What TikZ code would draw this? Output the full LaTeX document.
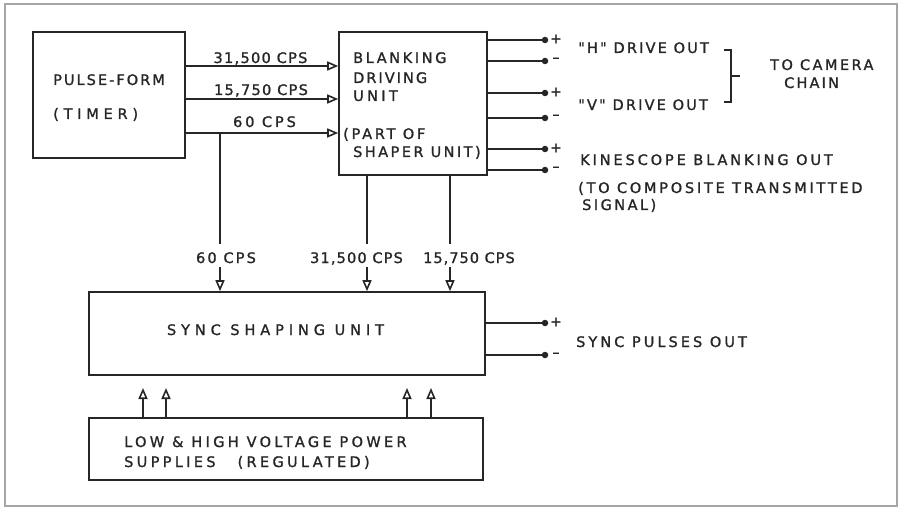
\documentclass[tikz,border=0pt]{standalone}
\usepackage{fontspec}
\setmainfont{DejaVu Sans}
\newfontfamily\lett[FakeBold=1.3]{DejaVu Sans}
\usetikzlibrary{arrows.meta}
\newcommand\LS[2]{{\addfontfeature{LetterSpace=#1}#2}}
\definecolor{ink}{HTML}{262626}
\begin{document}
\begin{tikzpicture}[x=1pt,y=-1pt,
  inkline/.style={draw=ink,line width=1.6pt},
  box/.style={draw=ink,line width=1.6pt,rectangle,inner sep=0pt},
  lbl/.style={inner sep=0pt,text=ink,font=\lett\fontsize{14.5}{17}\selectfont},
  lw/.style={lbl,anchor=base west},
  lc/.style={lbl,anchor=base},
  arr/.style={inkline,-{Triangle[open,length=11pt,width=9pt,line width=1.6pt]}},
  dotnode/.style={circle,fill=ink,inner sep=0pt,minimum size=6.5pt},
  sgn/.style={lbl,anchor=center,font=\lett\fontsize{14}{16}\selectfont}]
\useasboundingbox (0,0) rectangle (900,508);
\draw[gray!70,line width=1.3pt] (5,4) rectangle (897,506);

% boxes
\node[box,minimum width=152pt,minimum height=126pt] (pulse) at (109,95) {};
\node[box,minimum width=148pt,minimum height=143pt] (blank) at (413,103.5) {};
\node[box,minimum width=396pt,minimum height=83pt] (sync) at (287,333.5) {};
\node[box,minimum width=394pt,minimum height=62pt] (power) at (286,449) {};

% box texts
\node[lw] (tpf) at (53,85) {\LS{14}{PULSE-FORM}};
\node[lw] (ttim) at (53,119) {\LS{33}{(TIMER)}};
\node[lw] (tbl) at (353,63) {\LS{18}{BLANKING}};
\node[lw] (tdr) at (353,83) {\LS{14}{DRIVING}};
\node[lw] (tun) at (353,101) {\LS{23}{UNIT}};
\node[lw] (tpart) at (343,139) {\LS{19}{(PART OF}};
\node[lw] (tshp) at (353,157) {\LS{17}{SHAPER UNIT)}};
\node[lc] (tsync) at (275.5,335) {\LS{34}{SYNC SHAPING UNIT}};
\node[lw] (tlow) at (124,447) {\LS{23}{LOW \& HIGH VOLTAGE POWER}};
\node[lw] (tsup) at (124,467) {\LS{23}{SUPPLIES\hspace{22pt}(REGULATED)}};

% pulse -> blanking
\coordinate (r1) at (0,66);
\coordinate (r2) at (0,99);
\coordinate (r3) at (0,133);
\draw[arr] (pulse.east |- r1) -- (blank.west |- r1);
\draw[arr] (pulse.east |- r2) -- (blank.west |- r2);
\draw[arr] (pulse.east |- r3) -- (blank.west |- r3);
\node[lc] (l1) at (260.5,63) {\LS{9}{31,500 CPS}};
\node[lc] (l2) at (261,95) {\LS{9}{15,750 CPS}};
\node[lc] (l3) at (264.5,127) {\LS{20}{60 CPS}};

% 60 CPS down to sync
\coordinate (j60) at (220,133);
\coordinate (a60) at (220,244);
\coordinate (b60) at (220,267);
\draw[inkline] (j60) -- (a60);
\draw[arr] (b60) -- (sync.north -| b60);
\node[lc] (l4) at (226,263) {\LS{15}{60 CPS}};

% blanking down to sync
\coordinate (a31) at (367,244);
\coordinate (b31) at (367,267);
\draw[inkline] (blank.south -| a31) -- (a31);
\draw[arr] (b31) -- (sync.north -| b31);
\node[lc] (l5) at (356.5,263) {\LS{8}{31,500 CPS}};
\coordinate (a15) at (450,244);
\coordinate (b15) at (450,267);
\draw[inkline] (blank.south -| a15) -- (a15);
\draw[arr] (b15) -- (sync.north -| b15);
\node[lc] (l6) at (469,263) {\LS{7}{15,750 CPS}};

% power up to sync
\foreach \i/\x in {1/143,2/166,3/407,4/431}{
  \coordinate (u\i) at (\x,388);
  \draw[arr] (power.north -| u\i) -- (u\i);
}

% blanking outputs
\foreach \i/\y/\s in {1/40/+,2/61/–,3/93/+,4/118/–,5/149/+,6/170/–}{
  \node[dotnode] (o\i) at (545,\y) {};
  \draw[inkline] (blank.east |- o\i) -- (o\i.center);
  \node[sgn] (s\i) at (556,\y-1) {\s};
}
\node[lw] (th) at (578,53) {\LS{15}{"H" DRIVE OUT}};
\node[lw] (tv) at (578,110) {\LS{15}{"V" DRIVE OUT}};
\node[lw] (tcam) at (770,70) {\LS{17}{TO CAMERA}};
\node[lw] (tchain) at (784,88) {\LS{15}{CHAIN}};
\coordinate (k1) at (724,50);
\coordinate (k2) at (731,50);
\coordinate (k3) at (731,102);
\coordinate (k4) at (724,102);
\coordinate (k5) at (731,76);
\coordinate (k6) at (740,76);
\draw[ink,line width=2pt] (k1) -- (k2) -- (k3) -- (k4);
\draw[ink,line width=2pt] (k5) -- (k6);
\node[lw] (tkin) at (580,165) {\LS{20}{KINESCOPE BLANKING OUT}};
\node[lw] (tcomp) at (578,193) {\LS{19}{(TO COMPOSITE TRANSMITTED}};
\node[lw] (tsig) at (582,210) {\LS{17}{SIGNAL)}};

% sync outputs
\node[dotnode] (p1) at (545,323) {};
\node[dotnode] (p2) at (545,355) {};
\draw[inkline] (sync.east |- p1) -- (p1.center);
\draw[inkline] (sync.east |- p2) -- (p2.center);
\node[sgn] (q1) at (556,322) {+};
\node[sgn] (q2) at (556,355) {–};
\node[lw] (tsp) at (576,347) {\LS{21}{SYNC PULSES OUT}};
\end{tikzpicture}
\end{document}
